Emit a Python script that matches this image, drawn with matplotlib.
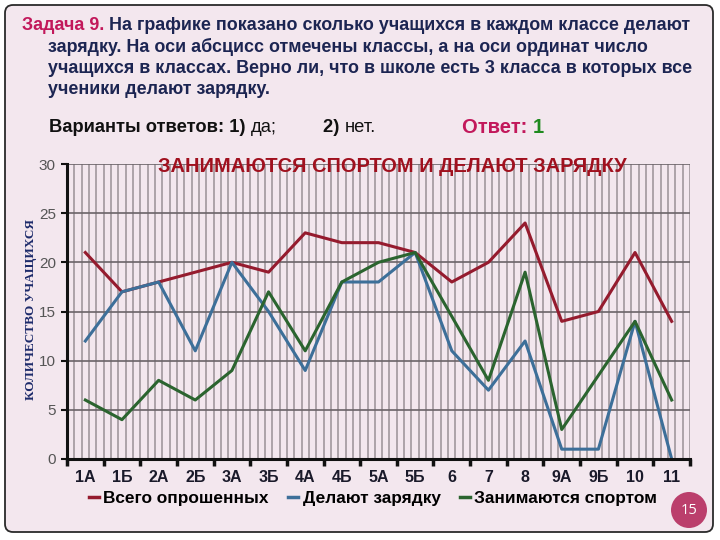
import matplotlib
matplotlib.use("Agg")
import matplotlib.pyplot as plt
import numpy as np
from matplotlib.patches import FancyBboxPatch, Circle

categories = ["1А", "1Б", "2А", "2Б", "3А", "3Б", "4А", "4Б", "5А", "5Б",
              "6", "7", "8", "9А", "9Б", "10", "11"]
total = [21, 17, 18, 19, 20, 19, 23, 22, 22, 21, 18, 20, 24, 14, 15, 21, 14]
exercise = [12, 17, 18, 11, 20, 15, 9, 18, 18, 21, 11, 7, 12, 1, 1, 14, 0]
sport = [6, 4, 8, 6, 9, 17, 11, 18, 20, 21, 14.5, 8, 19, 3, 8.5, 14, 6]
series_names = ["Всего опрошенных", "Делают зарядку", "Занимаются спортом"]
yticks = [0, 5, 10, 15, 20, 25, 30]

W, H = 720, 540
fig = plt.figure(figsize=(7.2, 5.4), dpi=100)
fig.patch.set_facecolor("white")

PINK = "#f3e7ee"
NAVY = "#1c2552"
CRIMSON = "#c2185b"

def fx(x):
    return x / W

def fy(y):
    return 1 - y / H

# rounded panel as a background axes
bg = fig.add_axes([0, 0, 1, 1], zorder=-10)
bg.set_xlim(0, W)
bg.set_ylim(H, 0)
bg.axis("off")
bg.add_patch(FancyBboxPatch((5, 5), 708, 527,
                            boxstyle="round,pad=0,rounding_size=8",
                            facecolor=PINK, edgecolor="#2a2a2a", linewidth=1.3))

renderer = fig.canvas.get_renderer()

def seq(x, y, pieces, size, family="Liberation Sans"):
    """Place consecutive text pieces [(text, color, weight)] starting at pixel x."""
    for txt, color, weight in pieces:
        t = fig.text(fx(x), fy(y), txt, color=color, fontsize=size,
                     fontweight=weight, family=family, va="baseline", ha="left")
        bb = t.get_window_extent(renderer=renderer)
        x += bb.width

qsize = 12.9
seq(22, 30, [("Задача 9. ", CRIMSON, "bold"),
             ("На графике показано сколько учащихся в каждом классе делают", NAVY, "bold")], qsize)
seq(48, 52, [("зарядку. На оси абсцисс отмечены классы, а на оси ординат число", NAVY, "bold")], qsize)
seq(48, 73, [("учащихся в классах. Верно ли, что в школе есть 3 класса в которых все", NAVY, "bold")], qsize)
seq(48, 94, [("ученики делают зарядку.", NAVY, "bold")], qsize)

seq(49, 132, [("Варианты ответов: 1) ", "#111111", "bold"), ("да;", "#111111", "normal")], 13.2)
seq(323, 132, [("2) ", "#111111", "bold"), ("нет.", "#111111", "normal")], 13.2)
seq(462, 133, [("Ответ: ", CRIMSON, "bold"), ("1", "#1f8a1f", "bold")], 14.5)

# axes
ax = fig.add_axes([fx(67), fy(459), (690 - 67) / W, (459 - 164) / H])
ax.set_facecolor("none")
n = len(categories)
xs = np.arange(n) + 0.5
ax.set_xlim(0, n)
ax.set_ylim(0, 30)

# vertical gridlines (dense)
for v in np.arange(0.2, n + 0.01, 0.2):
    ax.axvline(v, color="#9a9096", linewidth=1.1, zorder=1)
for yv in yticks[1:]:
    ax.axhline(yv, color="#6b6468", linewidth=1.2, zorder=1)

colors = ["#951b2e", "#3d6f99", "#2b642f"]
for vals, c, name in zip([total, exercise, sport], colors, series_names):
    ax.plot(xs, vals, color=c, linewidth=2.2, label=name, zorder=3)

for s in ["top", "right"]:
    ax.spines[s].set_visible(False)
for s in ["left", "bottom"]:
    ax.spines[s].set_linewidth(2.2)
    ax.spines[s].set_color("#111111")
    ax.spines[s].set_zorder(4)

ax.set_yticks(yticks)
ax.set_yticklabels([str(v) for v in yticks], fontsize=11, color="#555555",
                   family="Liberation Sans")
ax.tick_params(axis="y", length=4, width=1.5, color="#111111", pad=4)

ax.set_xticks(np.arange(0, n + 1))
ax.set_xticklabels([])
ax.tick_params(axis="x", which="major", length=5, width=2.5, color="#111111",
               direction="out")
ax.set_xticks(xs, minor=True)
ax.set_xticklabels(categories, minor=True, fontsize=11.5, color="#1a1a2a",
                   fontweight="bold", family="Liberation Sans")
ax.tick_params(axis="x", which="minor", length=0, pad=8)

fig.text(fx(392), fy(167), "ЗАНИМАЮТСЯ СПОРТОМ И ДЕЛАЮТ ЗАРЯДКУ",
         color="#a0101e", fontsize=14.4, fontweight="bold",
         family="Liberation Sans", ha="center", va="center")

fig.text(fx(31), fy(310), "КОЛИЧЕСТВО УЧАЩИХСЯ", rotation=90,
         color="#1c2a6a", fontsize=9.5, fontweight="bold",
         family="Liberation Serif", ha="center", va="center")

leg = fig.legend(loc="center", bbox_to_anchor=(fx(373), fy(498)), ncol=3,
                 frameon=False, handlelength=0.6, handletextpad=0.25,
                 columnspacing=1.1,
                 prop={"family": "Liberation Sans", "weight": "bold", "size": 12.4})
for line in leg.get_lines():
    line.set_linewidth(2.5)

cax = fig.add_axes([fx(671), fy(528), 36 / W, 36 / H])
cax.set_xlim(-1, 1)
cax.set_ylim(-1, 1)
cax.set_aspect("equal")
cax.axis("off")
cax.add_patch(Circle((0, 0), 1, facecolor="#bb3f6c", edgecolor="none"))
cax.text(0, 0, "15", color="white", fontsize=10.5, ha="center", va="center",
         family="Open Sans")

fig.savefig("out.png", dpi=100, facecolor="white")
